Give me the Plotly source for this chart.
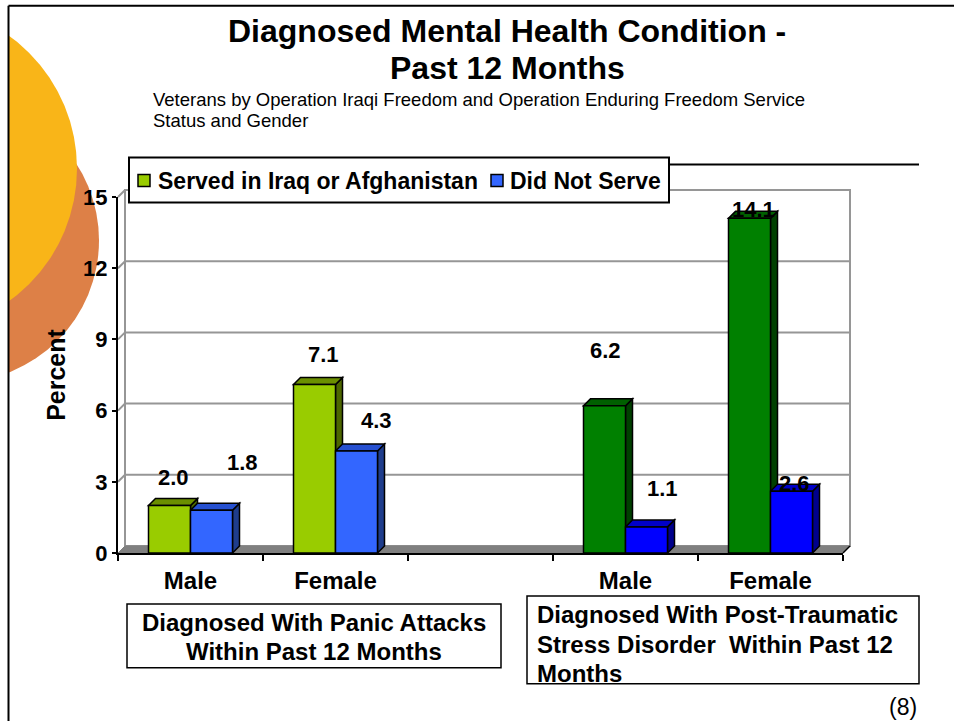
import plotly.graph_objects as go

categories = ["Male", "Female", "\u00a0", "\u00a0Male\u00a0", "\u00a0Female\u00a0"]
served = [2.0, 7.1, None, 6.2, 14.1]
not_served = [1.8, 4.3, None, 1.1, 2.6]
served_name = "Served in Iraq or Afghanistan"
not_served_name = "Did Not Serve"
y_ticks = [0, 3, 6, 9, 12, 15]

served_front = ["#99CC00", "#99CC00", "#99CC00", "#008000", "#008000"]
served_top = ["#6B8F00", "#6B8F00", "#6B8F00", "#006000", "#006000"]
served_side = ["#4D6600", "#4D6600", "#4D6600", "#004000", "#004000"]
not_front = ["#3366FF", "#3366FF", "#3366FF", "#0000FF", "#0000FF"]
not_top = ["#2650D0", "#2650D0", "#2650D0", "#0000C8", "#0000C8"]
not_side = ["#1F3D8C", "#1F3D8C", "#1F3D8C", "#00008C", "#00008C"]

# label pixel offsets from the top-centre of each bar
served_lbl = [(4, 28), (9, 30), None, (1, 55), (4, 9)]
not_lbl = [(31, 48), (20, 30), None, (16, 38), (3, 8)]

FONT = "Liberation Sans, Arial, sans-serif"
W, H = 954, 721
L, R, T, B = 118, 843, 196.5, 553
DPX, DPY = 7, 7
CAT_W = (R - L) / len(categories)
UNIT = (B - T) / max(y_ticks)
DX, DY = DPX / CAT_W, DPY / UNIT
HALF = 42 / CAT_W


def px(x):
    return (x - L) / (R - L)


def py(y):
    return (B - y) / (B - T)


x_lo, x_hi = -0.5, len(categories) - 0.5
top = max(y_ticks)


def xp(c):
    return (c - x_lo) / (x_hi - x_lo)


def yp(v):
    return v / top


def poly(pts, fill, line="black", lw=1.5, xref="x2", yref="y"):
    d = "M" + " L".join(f"{a},{b}" for a, b in pts) + " Z"
    return dict(type="path", path=d, xref=xref, yref=yref, fillcolor=fill,
                line=dict(color=line, width=lw), layer="below")


shapes = []
# decorative circles
shapes.append(dict(type="circle", xref="paper", yref="paper", layer="below",
                   x0=px(-185), x1=px(99), y0=py(382), y1=py(98),
                   fillcolor="#DD8047", line_width=0))
shapes.append(dict(type="circle", xref="paper", yref="paper", layer="below",
                   x0=px(-251), x1=px(77), y0=py(4), y1=py(332),
                   fillcolor="#F9B518", line_width=0))
# mask and slide frame
shapes.append(dict(type="rect", xref="paper", yref="paper", layer="below",
                   x0=px(-5), x1=px(8), y0=py(-5), y1=py(730),
                   fillcolor="white", line_width=0))
shapes.append(dict(type="rect", xref="paper", yref="paper", layer="below",
                   x0=px(-5), x1=px(W + 5), y0=py(-5), y1=py(4),
                   fillcolor="white", line_width=0))
for a, b, c, d in [(8.5, 5, 8.5, 730), (8.5, 5, W + 5, 5), (130, 164, 919, 164)]:
    shapes.append(dict(type="line", xref="paper", yref="paper", layer="below",
                       x0=px(a), y0=py(b), x1=px(c), y1=py(d),
                       line=dict(color="black", width=2)))

# back wall, floor and gridlines, derived from the axes
GRID = "#969696"
wx0, wx1 = xp(x_lo + DX), xp(x_hi + DX)
shapes.append(poly([(wx0, yp(DY)), (wx1, yp(DY)), (wx1, yp(top + DY)), (wx0, yp(top + DY))],
                   "white", GRID, 2, "paper", "paper"))
for t in y_ticks[1:]:
    shapes.append(dict(type="path", xref="paper", yref="paper", layer="below",
                       path=f"M{xp(x_lo)},{yp(t)} L{wx0},{yp(t + DY)} L{wx1},{yp(t + DY)}",
                       line=dict(color=GRID, width=2)))
shapes.append(poly([(xp(x_lo), 0), (wx0, yp(DY)), (wx1, yp(DY)), (xp(x_hi), 0)],
                   "#808080", "#808080", 1, "paper", "paper"))
shapes.append(dict(type="line", xref="paper", yref="paper", layer="below", x0=xp(x_hi), y0=0,
                   x1=wx1, y1=yp(DY), line=dict(color="black", width=1.5)))

# depth faces of bars (fronts are the bar traces themselves)
for i in range(len(categories)):
    for left, val, tc, sc in ((i - HALF, served[i], served_top[i], served_side[i]),
                              (i, not_served[i], not_top[i], not_side[i])):
        if val is None:
            continue
        right = left + HALF
        shapes.append(poly([(right, 0), (right + DX, DY), (right + DX, val + DY), (right, val)], sc))
        shapes.append(poly([(left, val), (left + DX, val + DY), (right + DX, val + DY), (right, val)], tc))

# text boxes and legend box with swatches
for x0, y0, x1, y1, lw in [(127, 604, 501, 668, 1.5), (527, 596, 919, 684, 1.5), (129, 157, 669, 202, 2)]:
    shapes.append(dict(type="rect", xref="paper", yref="paper", layer="below",
                       x0=px(x0), x1=px(x1), y0=py(y0), y1=py(y1),
                       fillcolor="white", line=dict(color="black", width=lw)))
for x0, col in [(138, served_front[0]), (491, not_front[0])]:
    shapes.append(dict(type="rect", xref="paper", yref="paper", layer="below",
                       x0=px(x0), x1=px(x0 + 12), y0=py(174), y1=py(186),
                       fillcolor=col, line=dict(color="black", width=1.5)))

annotations = []


def note(x, y, text, size, bold=True, anchor="center"):
    annotations.append(dict(xref="paper", yref="paper", x=px(x), y=py(y),
                            text=f"<b>{text}</b>" if bold else text,
                            showarrow=False, xanchor=anchor, yanchor="middle", align=anchor,
                            font=dict(family=FONT, size=size, color="black")))


note(507, 30, "Diagnosed Mental Health Condition -", 32)
note(507, 67, "Past 12 Months", 32)
note(151, 99, "Veterans by Operation Iraqi Freedom and Operation Enduring Freedom Service", 18.5,
     bold=False, anchor="left")
note(151, 120, "Status and Gender", 18.5, bold=False, anchor="left")
note(156, 180, served_name, 23, anchor="left")
note(508, 180, not_served_name, 23, anchor="left")
note(314, 623, "Diagnosed With Panic Attacks", 24)
note(314, 652, "Within Past 12 Months", 24)
note(535, 615, "Diagnosed With Post-Traumatic", 24, anchor="left")
note(535, 645, "Stress Disorder  Within Past 12", 24, anchor="left")
note(535, 674, "Months", 24, anchor="left")
note(903, 707, "(8)", 23, bold=False)

for i in range(len(categories)):
    for center, val, off in ((i - HALF / 2, served[i], served_lbl[i]),
                             (i + HALF / 2, not_served[i], not_lbl[i])):
        if val is None:
            continue
        annotations.append(dict(xref="x2", yref="y", x=center, y=val, text=f"<b>{val:.1f}</b>",
                                xshift=off[0], yshift=off[1], showarrow=False,
                                xanchor="center", yanchor="middle",
                                font=dict(family=FONT, size=22, color="black")))

fig = go.Figure()
fig.add_trace(go.Bar(name=served_name, x=categories, y=served,
                     marker=dict(color=served_front, line=dict(color="black", width=1.5))))
fig.add_trace(go.Bar(name=not_served_name, x=categories, y=not_served,
                     marker=dict(color=not_front, line=dict(color="black", width=1.5))))
fig.add_trace(go.Scatter(x=[x_lo, x_hi], y=[0, 0], xaxis="x2", mode="markers",
                         marker=dict(opacity=0), showlegend=False, hoverinfo="skip"))

fig.update_layout(
    width=W, height=H, autosize=False,
    margin=dict(l=L, r=W - R, t=T, b=H - B),
    paper_bgcolor="white", plot_bgcolor="rgba(0,0,0,0)",
    barmode="group", bargap=1 - 84 / CAT_W, bargroupgap=0,
    font=dict(family=FONT, color="black"),
    shapes=shapes, annotations=annotations, showlegend=False,
    xaxis=dict(type="category", categoryorder="array", categoryarray=categories,
               range=[x_lo, x_hi], tickson="boundaries", ticks="outside", ticklen=6, tickwidth=2,
               tickcolor="black", showline=True, linecolor="black", linewidth=2, showgrid=False,
               ticklabelstandoff=5, tickfont=dict(family=FONT, size=24, weight="bold")),
    xaxis2=dict(overlaying="x", range=[x_lo, x_hi], visible=False, showgrid=False, zeroline=False),
    yaxis=dict(range=[0, top], tickvals=y_ticks, ticks="outside", ticklen=4, tickwidth=2,
               tickcolor="black", showline=True, linecolor="black", linewidth=2, showgrid=False,
               zeroline=False, tickfont=dict(family=FONT, size=22, weight="bold"),
               title=dict(text="<b>Percent</b>", standoff=10, font=dict(family=FONT, size=25))),
)
fig.write_html("out.html", config={"displayModeBar": False},
               post_script="document.body.style.margin='0';")
